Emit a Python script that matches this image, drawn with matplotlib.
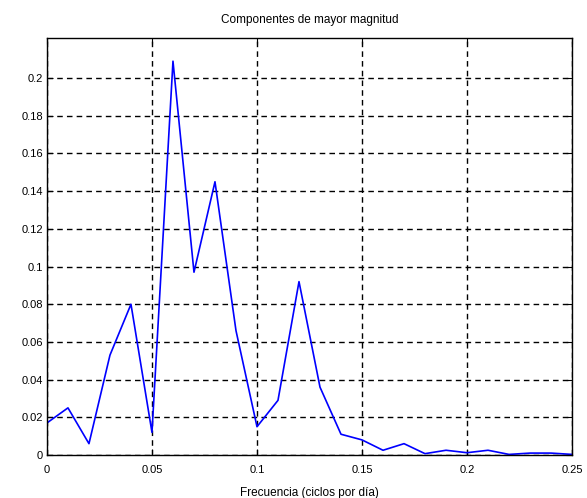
import matplotlib
matplotlib.use("Agg")
import matplotlib.pyplot as plt
import numpy as np

# spectrum magnitudes, one sample every 0.01 cycles/day
freq = np.arange(26) * 0.01
magnitude = [0.017, 0.025, 0.006, 0.053, 0.080, 0.012, 0.209, 0.097, 0.145, 0.066,
             0.015, 0.029, 0.092, 0.036, 0.011, 0.008, 0.0025, 0.006, 0.0007, 0.0025,
             0.0012, 0.0025, 0.0003, 0.001, 0.001, 0.0003]

xticks = [0, 0.05, 0.1, 0.15, 0.2, 0.25]
xticklabels = ["0", "0.05", "0.1", "0.15", "0.2", "0.25"]
yticks = [0, 0.02, 0.04, 0.06, 0.08, 0.1, 0.12, 0.14, 0.16, 0.18, 0.2]
yticklabels = ["0", "0.02", "0.04", "0.06", "0.08", "0.1", "0.12", "0.14", "0.16", "0.18", "0.2"]

plt.rcParams['font.family'] = ['Liberation Sans', 'DejaVu Sans']

fig = plt.figure(figsize=(5.87, 4.98), dpi=100)
ax = fig.add_axes([0.080, 0.0864, 0.8945, 0.8373])

ax.plot(freq, magnitude, color='#0000ff', linewidth=1.2)

ax.set_xlim(0, 0.25)
ax.set_ylim(0, 0.2213)
ax.set_xticks(xticks)
ax.set_xticklabels(xticklabels)
ax.set_yticks(yticks)
ax.set_yticklabels(yticklabels)
ax.tick_params(direction='in', top=True, right=True, labelsize=8, length=4, pad=3)
ax.tick_params(axis='x', pad=7)

ax.grid(True, color='black', linestyle=(0, (4, 3)), linewidth=1.0)
for s in ax.spines.values():
    s.set_linewidth(1.0)

ax.set_title("Componentes de mayor magnitud", fontsize=8.5, pad=11)
ax.set_xlabel("Frecuencia (ciclos por día)", fontsize=8.5, labelpad=9)

fig.savefig("out.png", dpi=100)
